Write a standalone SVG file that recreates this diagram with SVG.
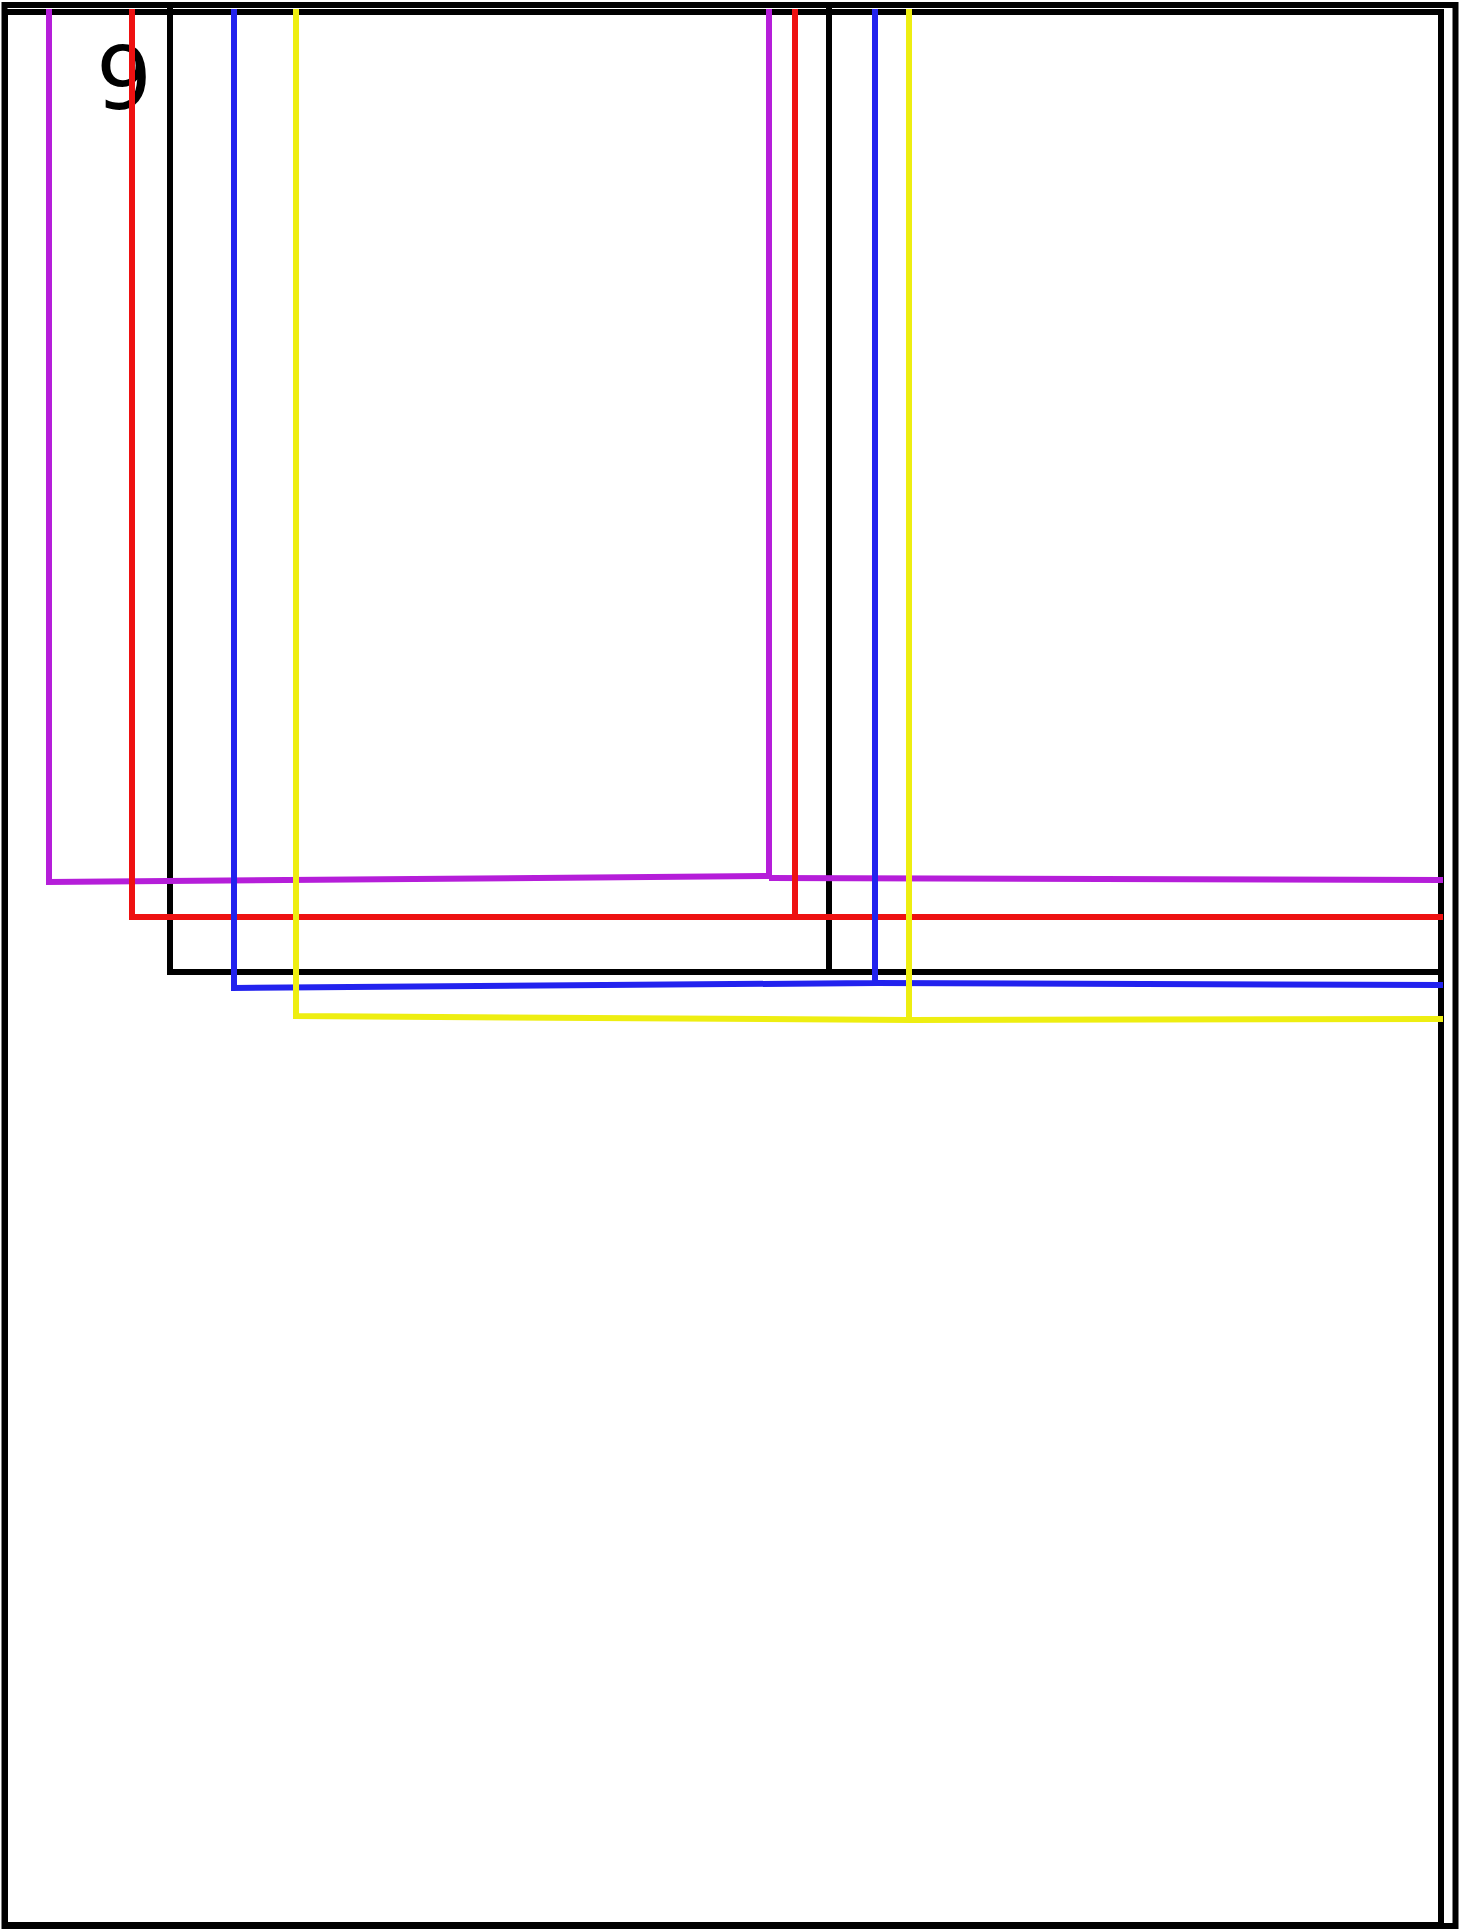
<svg xmlns="http://www.w3.org/2000/svg" width="1469" height="1929" viewBox="0 0 1469 1929">
<style>
.frame{fill:none;stroke:#000;stroke-width:6}
.c{fill:none;stroke-width:6;stroke-linejoin:miter;stroke-linecap:butt}
.p{stroke:#b51ed9}
.r{stroke:#ee1111}
.k{stroke:#000}
.b{stroke:#2222ee}
.y{stroke:#eeee11}
.lbl{font-family:"DejaVu Sans",sans-serif;font-size:88px;fill:#000}
</style>
<rect width="1469" height="1929" fill="#fff"/>
<g id="frame-outer"><rect class="frame" x="4.5" y="5" width="1451" height="1921" stroke-width="7"/></g>
<g id="frame-inner"><rect class="frame" x="5" y="12" width="1436" height="1913" stroke-width="5"/></g>
<g id="box-black"><rect class="frame" x="170" y="5" width="659" height="967"/></g>
<g id="label-9"><text class="lbl" x="124" y="109" text-anchor="middle">9</text></g>
<g id="connectors">
<path class="c p" d="M49 9 V882 L769 876 V9"/>
<path class="c p" d="M769 878 L1443 880"/>
<path class="c r" d="M132 9 V917 H795 V9"/>
<path class="c r" d="M795 917 H1443"/>
<path class="c k" d="M829 972 H1443"/>
<path class="c b" d="M234 9 V988 L875 983 V9"/>
<path class="c b" d="M875 983 L1443 985"/>
<path class="c y" d="M296 9 V1016 L909 1020 V9" stroke-width="6"/>
<path class="c y" d="M909 9 V1020" stroke-width="10"/>
<path class="c y" d="M909 1020 L1443 1019"/>
</g>
</svg>
